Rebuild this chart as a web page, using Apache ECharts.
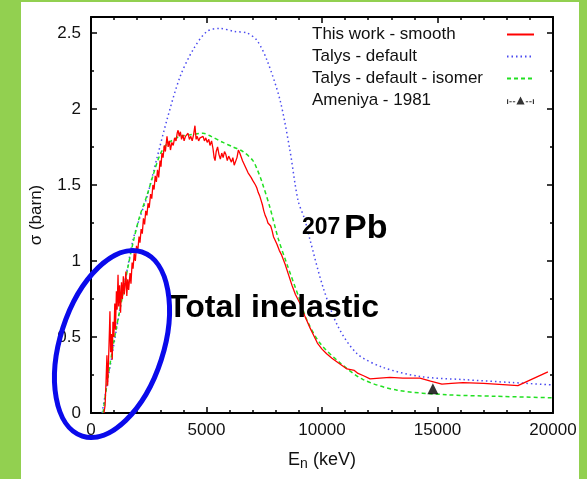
<!DOCTYPE html>
<html>
<head>
<meta charset="utf-8">
<script src="https://cdn.jsdelivr.net/npm/echarts@6/dist/echarts.min.js"></script>
<style>
html,body{margin:0;padding:0;background:#92d050;width:587px;height:479px;overflow:hidden;}
#panel{position:absolute;left:21px;top:2px;width:558px;height:477px;background:#fff;}
#chart{position:absolute;left:0;top:0;width:587px;height:479px;}
</style>
</head>
<body>
<div id="panel"></div>
<div id="chart"></div>
<script>
// ---- data (E in keV, sigma in barn) ----
const xTicks = [0, 5000, 10000, 15000, 20000];
const yTicks = [0, 0.5, 1, 1.5, 2, 2.5];
const seriesNames = ['This work - smooth', 'Talys - default', 'Talys - default - isomer', 'Ameniya - 1981'];

const thisWork = [
 [560,0],[610,0.05],[650,0.2],[690,0.38],[720,0.18],[760,0.35],[800,0.55],[820,0.67],[850,0.40],[880,0.52],
 [920,0.35],[950,0.60],[990,0.50],[1030,0.72],[1060,0.55],[1100,0.80],[1130,0.68],[1170,0.91],[1200,0.70],[1240,0.84],
 [1280,0.66],[1320,0.86],[1360,0.75],[1400,0.90],[1440,0.78],[1470,0.83],[1510,0.93],[1550,0.77],[1590,0.88],[1630,0.81],
 [1690,0.92],[1730,0.85],[1780,0.99],[1820,0.95],[1870,1.05],[1920,1.00],[1970,1.10],[2020,1.06],[2080,1.16],[2120,1.12],
 [2170,1.21],[2220,1.18],[2270,1.28],[2320,1.24],[2370,1.33],[2420,1.30],[2470,1.38],[2520,1.35],[2580,1.44],[2630,1.41],
 [2680,1.50],[2730,1.47],[2780,1.56],[2830,1.52],[2880,1.60],[2930,1.55],[2990,1.66],[3030,1.62],[3070,1.71],[3120,1.68],
 [3170,1.76],[3220,1.72],[3290,1.82],[3340,1.75],[3390,1.79],[3440,1.73],[3500,1.78],[3560,1.76],[3620,1.81],[3680,1.79],
 [3730,1.84],[3770,1.86],[3820,1.82],[3870,1.85],[3920,1.80],[3980,1.83],[4030,1.79],[4090,1.82],[4150,1.81],[4200,1.84],
 [4260,1.80],[4320,1.82],[4380,1.79],[4440,1.83],[4500,1.89],[4550,1.80],[4600,1.82],[4660,1.79],[4720,1.81],[4780,1.80],
 [4850,1.82],[4910,1.79],[4970,1.81],[5030,1.78],[5100,1.80],[5150,1.76],[5220,1.79],[5280,1.74],[5330,1.68],[5370,1.66],
 [5420,1.72],[5480,1.75],[5540,1.70],[5600,1.67],[5660,1.71],[5720,1.68],[5780,1.72],[5840,1.70],[5900,1.66],[5960,1.69],
 [6020,1.67],[6080,1.65],[6140,1.68],[6200,1.63],[6260,1.64],[6320,1.68],[6380,1.73],[6440,1.71],[6500,1.70],[6560,1.66],
 [6620,1.64],[6680,1.62],[6740,1.60],[6800,1.58],[6860,1.57],[6930,1.55],[7000,1.53],[7060,1.52],[7120,1.50],[7180,1.48],
 [7240,1.45],[7300,1.43],[7360,1.40],[7420,1.37],[7480,1.33],[7540,1.30],[7600,1.28],[7660,1.25],[7720,1.24],[7780,1.23],
 [7840,1.20],[7900,1.16],[7960,1.14],[8050,1.11],[8150,1.07],[8250,1.04],[8400,0.98],[8550,0.91],[8700,0.84],[8850,0.78],
 [9050,0.72],[9250,0.64],[9450,0.57],[9610,0.52],[9800,0.46],[10000,0.42],[10200,0.39],[10430,0.36],[10700,0.33],[11080,0.29],
 [11400,0.28],[11560,0.26],[11800,0.245],[12080,0.225],[12500,0.23],[12940,0.235],[13500,0.23],[14240,0.23],[14700,0.21],[15190,0.19],
 [15600,0.195],[16100,0.20],[17000,0.195],[18000,0.185],[18480,0.18],[19780,0.27]
];

const talysDefault = [
 [480,0],[750,0.24],[1000,0.46],[1340,0.76],[1600,0.97],[1820,1.14],[2100,1.28],[2420,1.42],[2860,1.68],[3290,1.93],
 [3850,2.21],[4420,2.39],[5020,2.51],[5580,2.53],[6200,2.51],[6750,2.50],[7190,2.45],[7620,2.32],[8180,2.06],[8610,1.73],
 [8960,1.40],[9260,1.27],[9480,1.14],[10040,0.83],[10690,0.57],[11520,0.39],[12640,0.30],[14240,0.24],[16100,0.22],[18270,0.20],
 [20000,0.185]
];

const talysIsomer = [
 [520,0],[740,0.24],[1000,0.48],[1340,0.75],[1600,0.96],[1820,1.12],[2100,1.29],[2420,1.43],[2680,1.56],[2990,1.70],
 [3290,1.77],[3600,1.80],[3850,1.82],[4300,1.83],[4850,1.84],[5200,1.82],[5710,1.78],[6150,1.75],[6580,1.72],[7010,1.66],
 [7200,1.60],[7400,1.52],[7750,1.35],[8100,1.15],[8480,0.98],[9000,0.76],[9350,0.61],[9910,0.46],[10780,0.33],[11780,0.22],
 [13250,0.15],[15410,0.12],[17500,0.11],[20000,0.10]
];

const ameniya = [[14800, 0.16]];

// ---- chart ----
const FONT = '"Liberation Sans", Arial, Helvetica, sans-serif';
const chart = echarts.init(document.getElementById('chart'), null, {renderer: 'canvas'});

function baseX(pos, showLabels) {
  return {
    type: 'value', position: pos, min: xTicks[0], max: xTicks[xTicks.length - 1], interval: xTicks[1] - xTicks[0],
    axisLine: {show: true, onZero: false, lineStyle: {color: '#000', width: 2}},
    axisTick: {show: true, inside: true, length: 6, lineStyle: {color: '#000', width: 1.5}},
    minorTick: {show: true, splitNumber: 5, length: 3, lineStyle: {color: '#000', width: 1.5}},
    splitLine: {show: false}, minorSplitLine: {show: false},
    axisLabel: {show: showLabels, fontSize: 17, color: '#111', fontFamily: FONT, margin: 9,
      formatter: function (v) { return String(v); }}
  };
}
function baseY(pos, showLabels) {
  return {
    type: 'value', position: pos, min: yTicks[0], max: 2.605, interval: yTicks[1] - yTicks[0],
    axisLine: {show: true, onZero: false, lineStyle: {color: '#000', width: 2}},
    axisTick: {show: true, inside: true, length: 6, lineStyle: {color: '#000', width: 1.5}},
    minorTick: {show: true, splitNumber: 2, length: 3, lineStyle: {color: '#000', width: 1.5}},
    splitLine: {show: false}, minorSplitLine: {show: false},
    axisLabel: {show: showLabels, fontSize: 17, color: '#111', fontFamily: FONT, margin: 10, showMaxLabel: false,
      formatter: function (v) { return yTicks.indexOf(v) >= 0 ? String(v) : ''; }}
  };
}

const xMain = baseX('bottom', true);
xMain.name = '{a|E}{b|n}{a| (keV)}';
xMain.nameLocation = 'middle';
xMain.nameGap = 38;
xMain.nameTextStyle = {color: '#111', fontFamily: FONT, rich: {
  a: {fontSize: 18, fontFamily: FONT, color: '#111', lineHeight: 20, verticalAlign: 'top'},
  b: {fontSize: 14, fontFamily: FONT, color: '#111', lineHeight: 14, padding: [10, 0, 0, 0], verticalAlign: 'bottom'}
}};
const yMain = baseY('left', true);
yMain.name = 'σ (barn)';
yMain.nameLocation = 'middle';
yMain.nameGap = 46;
yMain.nameTextStyle = {fontSize: 17, color: '#111', fontFamily: FONT};

const errIcon = 'path://M2,6 L3,6 L3,10 L2,10 Z M4,7.6 L6,7.6 L6,8.4 L4,8.4 Z M7,7.6 L9,7.6 L9,8.4 L7,8.4 Z ' +
  'M10,10.5 L13.5,3.5 L17,10.5 Z M18,7.6 L20,7.6 L20,8.4 L18,8.4 Z M21,7.6 L23,7.6 L23,8.4 L21,8.4 Z M24,6 L25,6 L25,10 L24,10 Z';

const option = {
  backgroundColor: 'transparent',
  animation: false,
  grid: {left: 91, right: 34, top: 17, bottom: 66, containLabel: false},
  xAxis: [xMain, baseX('top', false)],
  yAxis: [yMain, baseY('right', false)],
  legend: {
    left: 307, top: 21, orient: 'vertical', align: 'right', itemGap: 5, itemWidth: 27, itemHeight: 12,
    data: [
      {name: seriesNames[0], itemStyle: {opacity: 0}},
      {name: seriesNames[1], itemStyle: {opacity: 0}},
      {name: seriesNames[2], itemStyle: {opacity: 0}},
      {name: seriesNames[3], icon: errIcon, itemStyle: {color: '#000'}}
    ],
    textStyle: {fontSize: 17, color: '#111', fontFamily: FONT, width: 190, lineHeight: 17,
      rich: {t: {fontSize: 17, color: '#111', fontFamily: FONT, align: 'left', lineHeight: 17}}},
    formatter: function (name) { return '{t|' + name + '}'; }
  },
  series: [
    {name: seriesNames[0], type: 'line', data: thisWork, showSymbol: false, symbol: 'none', z: 5,
      lineStyle: {color: '#ff0000', width: 1.3}, itemStyle: {color: '#ff0000'}},
    {name: seriesNames[1], type: 'line', data: talysDefault, showSymbol: false, symbol: 'none', smooth: 0.3, z: 3,
      lineStyle: {color: '#4a4af0', width: 1.5, type: [1.5, 3]}, itemStyle: {color: '#4a4af0'}},
    {name: seriesNames[2], type: 'line', data: talysIsomer, showSymbol: false, symbol: 'none', smooth: 0.3, z: 4,
      lineStyle: {color: '#22e022', width: 1.5, type: [4, 3]}, itemStyle: {color: '#22e022'}},
    {name: seriesNames[3], type: 'scatter', data: ameniya, symbol: 'triangle', symbolSize: 11, z: 6,
      itemStyle: {color: '#000'}}
  ],
  graphic: [
    {type: 'text', left: 302, top: 216, z: 50, style: {text: '207', fontSize: 23, fontWeight: 'bold', fontFamily: FONT, fill: '#000'}},
    {type: 'text', left: 344, top: 212, z: 50, style: {text: 'Pb', fontSize: 34, fontWeight: 'bold', fontFamily: FONT, fill: '#000'}},
    {type: 'text', left: 168, top: 292, z: 50, style: {text: 'Total inelastic', fontSize: 32, fontWeight: 'bold', fontFamily: FONT, fill: '#000'}},
    {type: 'ellipse', x: 112, y: 344, rotation: -0.312, z: 60,
      shape: {cx: 0, cy: 0, rx: 51.7, ry: 96.8},
      style: {fill: 'none', stroke: '#0a0aeb', lineWidth: 5}}
  ]
};
chart.setOption(option);
</script>
</body>
</html>
